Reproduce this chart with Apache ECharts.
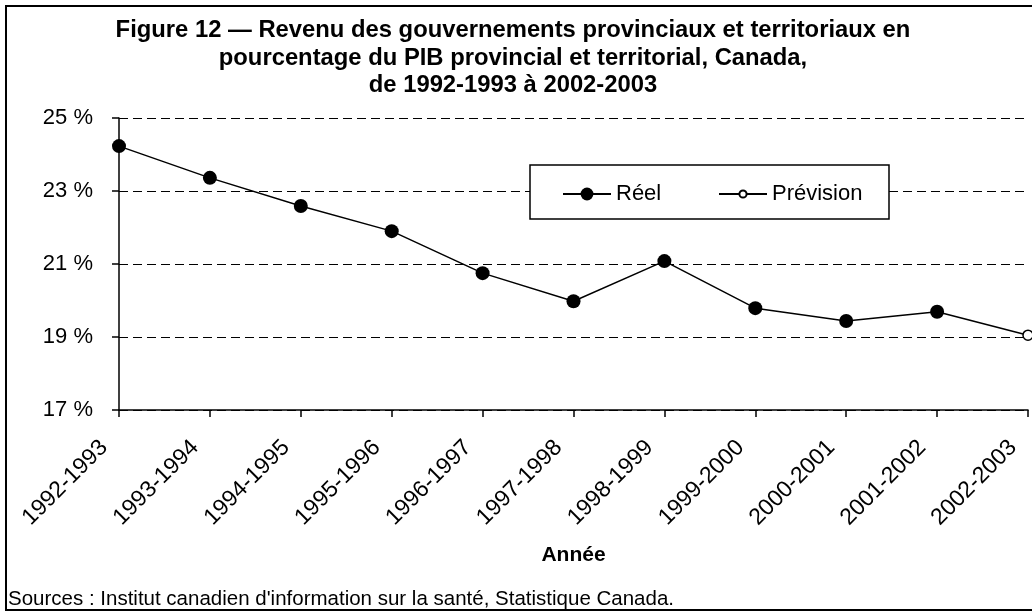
<!DOCTYPE html>
<html>
<head>
<meta charset="utf-8">
<script src="https://cdn.jsdelivr.net/npm/echarts@6/dist/echarts.min.js"></script>
<style>
  html, body { margin: 0; padding: 0; background: #fff; }
  #chart { width: 1032px; height: 613px; }
</style>
</head>
<body>
<div id="chart"></div>
<script>
// données
const annees = ['1992-1993','1993-1994','1994-1995','1995-1996','1996-1997','1997-1998',
  '1998-1999','1999-2000','2000-2001','2001-2002','2002-2003']
const reel = [24.23, 23.36, 22.59, 21.9, 20.75, 19.98, 21.08, 19.79, 19.44, 19.69, null]
const prevision = [null, null, null, null, null, null, null, null, null, 19.69, 19.05]
const yTicks = { min: 17, max: 25, step: 2 }

const font = '"Liberation Sans", Arial, Helvetica, sans-serif'

const chart = echarts.init(document.getElementById('chart'))
chart.setOption({
  animation: false,
  textStyle: { fontFamily: font, color: '#000' },
  title: {
    text: 'Figure 12 \u2014 Revenu des gouvernements provinciaux et territoriaux en\npourcentage du PIB provincial et territorial, Canada,\nde 1992-1993 à 2002-2003',
    left: 508, top: 12, textAlign: 'center',
    textStyle: { fontFamily: font, fontSize: 23.8, fontWeight: 'bold', lineHeight: 27.5, color: '#000' }
  },
  // deux légendes : le symbole plein et le symbole creux n'ont pas la même taille
  legend: [
    {
      left: 562, top: 183, padding: 0,
      itemWidth: 48, itemHeight: 16,
      textStyle: { fontFamily: font, fontSize: 22, color: '#000' },
      data: ['Réel']
    },
    {
      left: 718, top: 183, padding: 0,
      itemWidth: 48, itemHeight: 9,
      textStyle: { fontFamily: font, fontSize: 22, color: '#000' },
      data: ['Prévision']
    }
  ],
  grid: { left: 119, right: 4, top: 118, bottom: 203 },
  xAxis: {
    type: 'category', data: annees, boundaryGap: false,
    name: 'Année', nameLocation: 'middle', nameGap: 135,
    nameTextStyle: { fontFamily: font, fontSize: 21, fontWeight: 'bold', color: '#000' },
    axisLine: { lineStyle: { color: '#000', width: 1.5 } },
    axisTick: { length: 7, lineStyle: { color: '#000', width: 1.5 } },
    axisLabel: { rotate: 45, fontSize: 23, color: '#000', margin: 19, padding: [0, 21, 0, 0], fontFamily: font },
    splitLine: { show: false }
  },
  yAxis: {
    type: 'value', min: yTicks.min, max: yTicks.max, interval: yTicks.step,
    axisLine: { show: true, lineStyle: { color: '#000', width: 1.5 } },
    axisTick: { show: true, length: 7, lineStyle: { color: '#000', width: 1.5 } },
    axisLabel: { formatter: '{value} %', fontSize: 22, color: '#000', margin: 26, fontFamily: font },
    splitLine: { lineStyle: { color: '#000', width: 1, type: [9, 5] } }
  },
  series: [
    {
      name: 'Prévision', type: 'line', data: prevision,
      symbol: 'circle', symbolSize: 10,
      lineStyle: { color: '#000', width: 1.5 },
      itemStyle: { color: '#fff', borderColor: '#000', borderWidth: 1.5 },
      z: 2
    },
    {
      name: 'Réel', type: 'line', data: reel,
      symbol: 'circle', symbolSize: 14,
      lineStyle: { color: '#000', width: 1.5 },
      itemStyle: { color: '#000' },
      z: 3
    }
  ],
  graphic: [
    { type: 'rect', shape: { x: 6, y: 6, width: 1040, height: 604 },
      style: { fill: null, stroke: '#000', lineWidth: 2 }, z: -1 },
    // cadre de la légende
    { type: 'rect', shape: { x: 530, y: 165, width: 359, height: 54 },
      style: { fill: '#fff', stroke: '#000', lineWidth: 1.5 }, z: 3 },
    { type: 'text', left: 8, top: 589,
      style: { text: "Sources : Institut canadien d'information sur la santé, Statistique Canada.",
        font: '20.5px ' + font, fill: '#000' } }
  ]
})
</script>
</body>
</html>
